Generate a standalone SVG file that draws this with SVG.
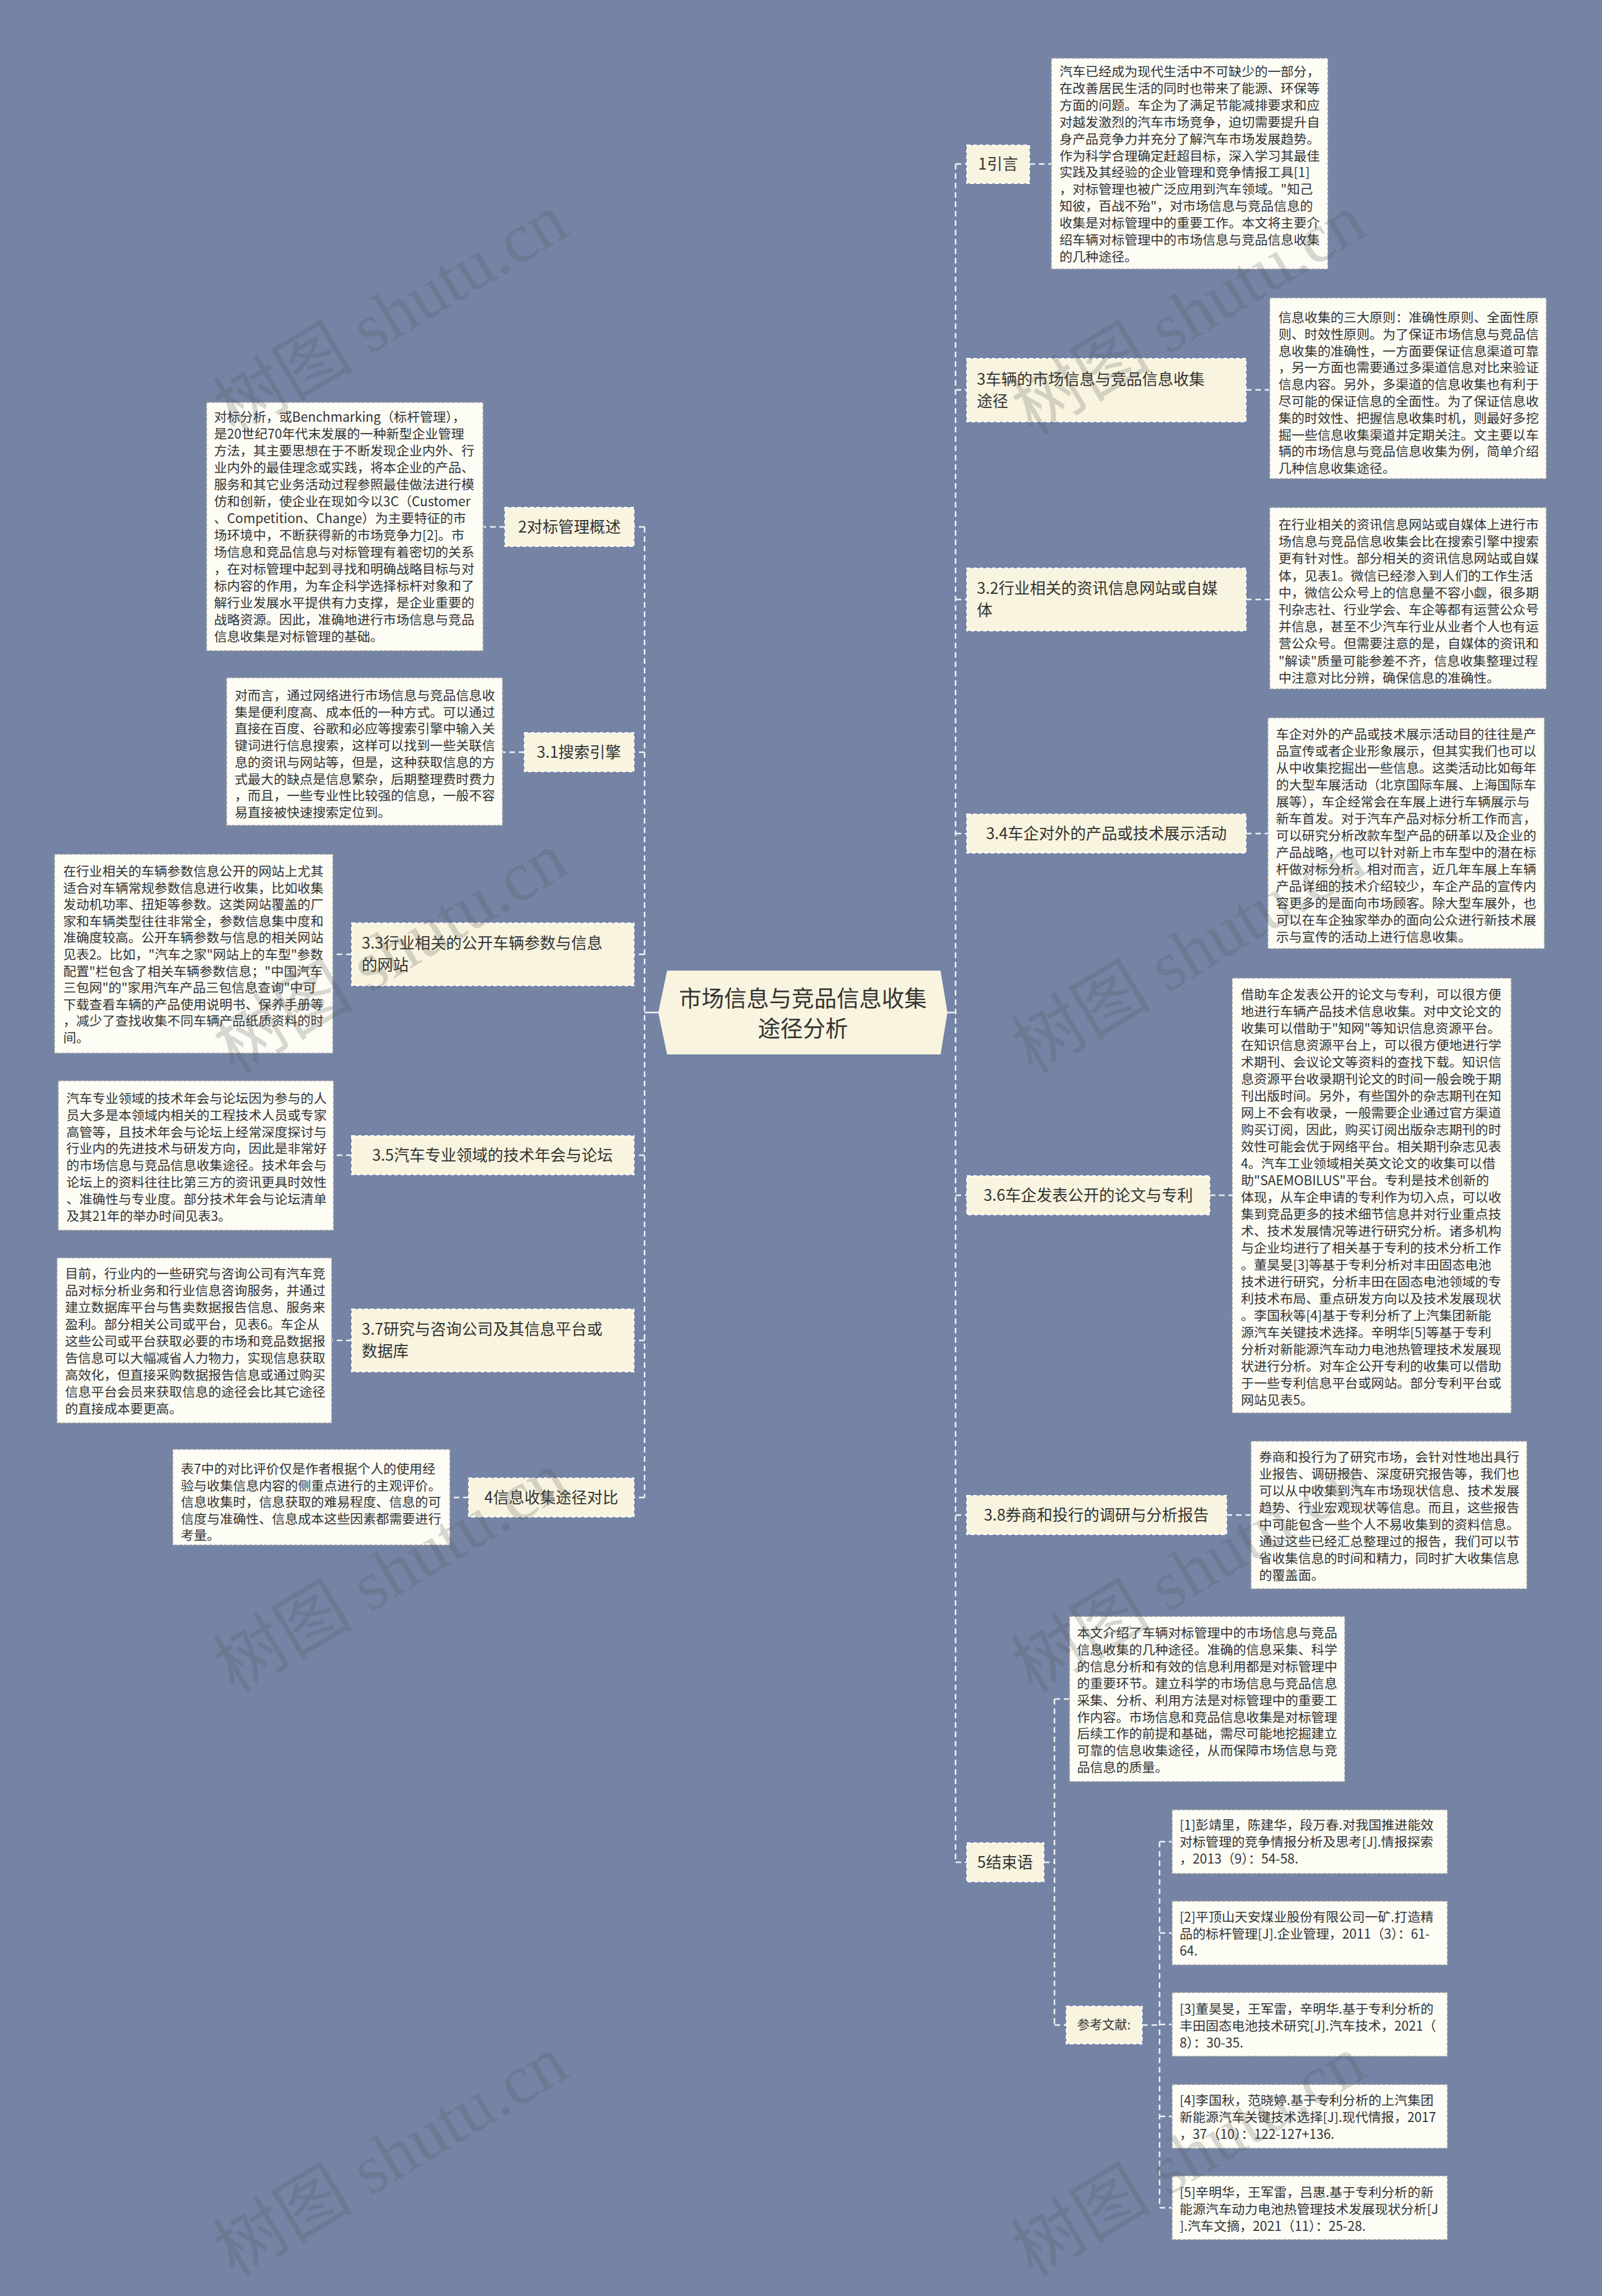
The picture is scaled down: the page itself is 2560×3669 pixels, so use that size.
<svg xmlns="http://www.w3.org/2000/svg" width="2560" height="3669" viewBox="0 0 2560 3669">
<style>
.bg{fill:#7584a5}
.lbl{fill:#f8f4df;stroke:#ffffff;stroke-width:2;stroke-dasharray:6 4}
.box{fill:#fdfdf6;stroke:#9a9a9a;stroke-width:1.5;stroke-dasharray:5 3}
.ctr{fill:#f8f4df;stroke:none}
text{font-family:'Noto Sans CJK SC','Noto Sans',sans-serif;fill:#333333}
.t{font-size:20.8px}
.lt{font-size:25px}
.st{font-size:20px}
.ct{font-size:36px;text-anchor:middle}
.mid{text-anchor:middle}
.conn{fill:none;stroke:#eef0f6;stroke-width:2.5;stroke-dasharray:9 6}
.solid{fill:none;stroke:#eef0f6;stroke-width:2.5}
.wm{font-family:'Liberation Serif','Noto Sans CJK SC',serif;font-size:112px;fill:#555555;opacity:0.22}
</style>
<rect class="bg" x="0" y="0" width="2560" height="3669"/>

<g id="connectors">
<path class="solid" d="M1052 1618H1030M1511 1618H1527"/>
<path class="conn" d="M1030 842V2393M1527 262V2976"/>
<path class="conn" d="M1527 262H1545M1527 623H1545M1527 958H1545M1527 1332H1545M1527 1910H1545M1527 2421H1545M1527 2976H1545"/>
<path class="conn" d="M1645 262H1680M1991 623H2029M1991 958H2029M1991 1332H2026M1933 1910H1969M1960 2421H1999"/>
<path class="conn" d="M1668 2976H1685M1685 2715V3236M1685 2715H1709M1685 3236H1704"/>
<path class="conn" d="M1825 3236H1853M1853 2943V3528M1853 2943H1873M1853 3089H1873M1853 3235H1873M1853 3382H1873M1853 3528H1873"/>
<path class="conn" d="M1030 842H1013M1030 1202H1013M1030 1525H1013M1030 1846H1013M1030 2142H1013M1030 2393H1013"/>
<path class="conn" d="M807 842H772M838 1202H803M562 1525H532M562 1846H533M562 2142H530M749 2393H719"/>
</g>

<g id="center">
<polygon class="ctr" points="1052,1618 1066,1551 1503,1551 1514,1618 1503,1685 1066,1685"/>
<text class="ct" x="1283" y="1609">市场信息与竞品信息收集</text>
<text class="ct" x="1283" y="1657">途径分析</text>
</g>

<g id="n-intro">
<rect class="lbl" x="1545" y="232" width="100" height="61"/>
<text class="lt mid" x="1595" y="271">1引言</text>
</g>
<g id="n-intro-text">
<rect class="box" x="1680" y="93" width="442" height="337"/>
<text class="t" x="1693" y="122"><tspan x="1693">汽车已经成为现代生活中不可缺少的一部分，</tspan><tspan x="1693" dy="26.9">在改善居民生活的同时也带来了能源、环保等</tspan><tspan x="1693" dy="26.9">方面的问题。车企为了满足节能减排要求和应</tspan><tspan x="1693" dy="26.9">对越发激烈的汽车市场竞争，迫切需要提升自</tspan><tspan x="1693" dy="26.9">身产品竞争力并充分了解汽车市场发展趋势。</tspan><tspan x="1693" dy="26.9">作为科学合理确定赶超目标，深入学习其最佳</tspan><tspan x="1693" dy="26.9">实践及其经验的企业管理和竞争情报工具[1]</tspan><tspan x="1693" dy="26.9">，对标管理也被广泛应用到汽车领域。"知己</tspan><tspan x="1693" dy="26.9">知彼，百战不殆"，对市场信息与竞品信息的</tspan><tspan x="1693" dy="26.9">收集是对标管理中的重要工作。本文将主要介</tspan><tspan x="1693" dy="26.9">绍车辆对标管理中的市场信息与竞品信息收集</tspan><tspan x="1693" dy="26.9">的几种途径。</tspan></text>
</g>

<g id="n-3">
<rect class="lbl" x="1545" y="573" width="446" height="101"/>
<text class="lt" x="1561" y="615"><tspan x="1561">3车辆的市场信息与竞品信息收集</tspan><tspan x="1561" dy="35">途径</tspan></text>
</g>
<g id="n-3-text">
<rect class="box" x="2029" y="476" width="442" height="289"/>
<text class="t" x="2043" y="515"><tspan x="2043">信息收集的三大原则：准确性原则、全面性原</tspan><tspan x="2043" dy="26.8">则、时效性原则。为了保证市场信息与竞品信</tspan><tspan x="2043" dy="26.8">息收集的准确性，一方面要保证信息渠道可靠</tspan><tspan x="2043" dy="26.8">，另一方面也需要通过多渠道信息对比来验证</tspan><tspan x="2043" dy="26.8">信息内容。另外，多渠道的信息收集也有利于</tspan><tspan x="2043" dy="26.8">尽可能的保证信息的全面性。为了保证信息收</tspan><tspan x="2043" dy="26.8">集的时效性、把握信息收集时机，则最好多挖</tspan><tspan x="2043" dy="26.8">掘一些信息收集渠道并定期关注。文主要以车</tspan><tspan x="2043" dy="26.8">辆的市场信息与竞品信息收集为例，简单介绍</tspan><tspan x="2043" dy="26.8">几种信息收集途径。</tspan></text>
</g>

<g id="n-32">
<rect class="lbl" x="1545" y="908" width="446" height="100"/>
<text class="lt" x="1561" y="949"><tspan x="1561">3.2行业相关的资讯信息网站或自媒</tspan><tspan x="1561" dy="35">体</tspan></text>
</g>
<g id="n-32-text">
<rect class="box" x="2029" y="811" width="442" height="290"/>
<text class="t" x="2043" y="846"><tspan x="2043">在行业相关的资讯信息网站或自媒体上进行市</tspan><tspan x="2043" dy="27.2">场信息与竞品信息收集会比在搜索引擎中搜索</tspan><tspan x="2043" dy="27.2">更有针对性。部分相关的资讯信息网站或自媒</tspan><tspan x="2043" dy="27.2">体，见表1。微信已经渗入到人们的工作生活</tspan><tspan x="2043" dy="27.2">中，微信公众号上的信息量不容小觑，很多期</tspan><tspan x="2043" dy="27.2">刊杂志社、行业学会、车企等都有运营公众号</tspan><tspan x="2043" dy="27.2">并信息，甚至不少汽车行业从业者个人也有运</tspan><tspan x="2043" dy="27.2">营公众号。但需要注意的是，自媒体的资讯和</tspan><tspan x="2043" dy="27.2">"解读"质量可能参差不齐，信息收集整理过程</tspan><tspan x="2043" dy="27.2">中注意对比分辨，确保信息的准确性。</tspan></text>
</g>

<g id="n-34">
<rect class="lbl" x="1545" y="1301" width="446" height="62"/>
<text class="lt mid" x="1768" y="1341">3.4车企对外的产品或技术展示活动</text>
</g>
<g id="n-34-text">
<rect class="box" x="2026" y="1147" width="442" height="369"/>
<text class="t" x="2039" y="1181"><tspan x="2039">车企对外的产品或技术展示活动目的往往是产</tspan><tspan x="2039" dy="27">品宣传或者企业形象展示，但其实我们也可以</tspan><tspan x="2039" dy="27">从中收集挖掘出一些信息。这类活动比如每年</tspan><tspan x="2039" dy="27">的大型车展活动（北京国际车展、上海国际车</tspan><tspan x="2039" dy="27">展等），车企经常会在车展上进行车辆展示与</tspan><tspan x="2039" dy="27">新车首发。对于汽车产品对标分析工作而言，</tspan><tspan x="2039" dy="27">可以研究分析改款车型产品的研革以及企业的</tspan><tspan x="2039" dy="27">产品战略，也可以针对新上市车型中的潜在标</tspan><tspan x="2039" dy="27">杆做对标分析。相对而言，近几年车展上车辆</tspan><tspan x="2039" dy="27">产品详细的技术介绍较少，车企产品的宣传内</tspan><tspan x="2039" dy="27">容更多的是面向市场顾客。除大型车展外，也</tspan><tspan x="2039" dy="27">可以在车企独家举办的面向公众进行新技术展</tspan><tspan x="2039" dy="27">示与宣传的活动上进行信息收集。</tspan></text>
</g>

<g id="n-36">
<rect class="lbl" x="1545" y="1879" width="388" height="62"/>
<text class="lt mid" x="1739" y="1919">3.6车企发表公开的论文与专利</text>
</g>
<g id="n-36-text">
<rect class="box" x="1969" y="1563" width="446" height="695"/>
<text class="t" x="1983" y="1597"><tspan x="1983">借助车企发表公开的论文与专利，可以很方便</tspan><tspan x="1983" dy="27">地进行车辆产品技术信息收集。对中文论文的</tspan><tspan x="1983" dy="27">收集可以借助于"知网"等知识信息资源平台。</tspan><tspan x="1983" dy="27">在知识信息资源平台上，可以很方便地进行学</tspan><tspan x="1983" dy="27">术期刊、会议论文等资料的查找下载。知识信</tspan><tspan x="1983" dy="27">息资源平台收录期刊论文的时间一般会晚于期</tspan><tspan x="1983" dy="27">刊出版时间。另外，有些国外的杂志期刊在知</tspan><tspan x="1983" dy="27">网上不会有收录，一般需要企业通过官方渠道</tspan><tspan x="1983" dy="27">购买订阅，因此，购买订阅出版杂志期刊的时</tspan><tspan x="1983" dy="27">效性可能会优于网络平台。相关期刊杂志见表</tspan><tspan x="1983" dy="27">4。汽车工业领域相关英文论文的收集可以借</tspan><tspan x="1983" dy="27">助"SAEMOBILUS"平台。专利是技术创新的</tspan><tspan x="1983" dy="27">体现，从车企申请的专利作为切入点，可以收</tspan><tspan x="1983" dy="27">集到竞品更多的技术细节信息并对行业重点技</tspan><tspan x="1983" dy="27">术、技术发展情况等进行研究分析。诸多机构</tspan><tspan x="1983" dy="27">与企业均进行了相关基于专利的技术分析工作</tspan><tspan x="1983" dy="27">。董昊旻[3]等基于专利分析对丰田固态电池</tspan><tspan x="1983" dy="27">技术进行研究，分析丰田在固态电池领域的专</tspan><tspan x="1983" dy="27">利技术布局、重点研发方向以及技术发展现状</tspan><tspan x="1983" dy="27">。李国秋等[4]基于专利分析了上汽集团新能</tspan><tspan x="1983" dy="27">源汽车关键技术选择。辛明华[5]等基于专利</tspan><tspan x="1983" dy="27">分析对新能源汽车动力电池热管理技术发展现</tspan><tspan x="1983" dy="27">状进行分析。对车企公开专利的收集可以借助</tspan><tspan x="1983" dy="27">于一些专利信息平台或网站。部分专利平台或</tspan><tspan x="1983" dy="27">网站见表5。</tspan></text>
</g>

<g id="n-38">
<rect class="lbl" x="1545" y="2390" width="415" height="62"/>
<text class="lt mid" x="1752" y="2430">3.8券商和投行的调研与分析报告</text>
</g>
<g id="n-38-text">
<rect class="box" x="1999" y="2303" width="441" height="236"/>
<text class="t" x="2012" y="2336"><tspan x="2012">券商和投行为了研究市场，会针对性地出具行</tspan><tspan x="2012" dy="27">业报告、调研报告、深度研究报告等，我们也</tspan><tspan x="2012" dy="27">可以从中收集到汽车市场现状信息、技术发展</tspan><tspan x="2012" dy="27">趋势、行业宏观现状等信息。而且，这些报告</tspan><tspan x="2012" dy="27">中可能包含一些个人不易收集到的资料信息。</tspan><tspan x="2012" dy="27">通过这些已经汇总整理过的报告，我们可以节</tspan><tspan x="2012" dy="27">省收集信息的时间和精力，同时扩大收集信息</tspan><tspan x="2012" dy="27">的覆盖面。</tspan></text>
</g>

<g id="n-5">
<rect class="lbl" x="1545" y="2945" width="123" height="62"/>
<text class="lt mid" x="1606" y="2985">5结束语</text>
</g>
<g id="n-5-text">
<rect class="box" x="1709" y="2583" width="440" height="264"/>
<text class="t" x="1721" y="2617"><tspan x="1721">本文介绍了车辆对标管理中的市场信息与竞品</tspan><tspan x="1721" dy="26.9">信息收集的几种途径。准确的信息采集、科学</tspan><tspan x="1721" dy="26.9">的信息分析和有效的信息利用都是对标管理中</tspan><tspan x="1721" dy="26.9">的重要环节。建立科学的市场信息与竞品信息</tspan><tspan x="1721" dy="26.9">采集、分析、利用方法是对标管理中的重要工</tspan><tspan x="1721" dy="26.9">作内容。市场信息和竞品信息收集是对标管理</tspan><tspan x="1721" dy="26.9">后续工作的前提和基础，需尽可能地挖掘建立</tspan><tspan x="1721" dy="26.9">可靠的信息收集途径，从而保障市场信息与竞</tspan><tspan x="1721" dy="26.9">品信息的质量。</tspan></text>
</g>

<g id="n-refs">
<rect class="lbl" x="1704" y="3206" width="121" height="60"/>
<text class="st mid" x="1764" y="3243">参考文献:</text>
</g>
<g id="n-ref1">
<rect class="box" x="1873" y="2892" width="440" height="102"/>
<text class="t" x="1885" y="2924"><tspan x="1885">[1]彭靖里，陈建华，段万春.对我国推进能效</tspan><tspan x="1885" dy="27">对标管理的竞争情报分析及思考[J].情报探索</tspan><tspan x="1885" dy="27">，2013（9）：54-58.</tspan></text>
</g>
<g id="n-ref2">
<rect class="box" x="1873" y="3038" width="440" height="102"/>
<text class="t" x="1885" y="3071"><tspan x="1885">[2]平顶山天安煤业股份有限公司一矿.打造精</tspan><tspan x="1885" dy="27">品的标杆管理[J].企业管理，2011（3）：61-</tspan><tspan x="1885" dy="27">64.</tspan></text>
</g>
<g id="n-ref3">
<rect class="box" x="1873" y="3184" width="440" height="102"/>
<text class="t" x="1885" y="3218"><tspan x="1885">[3]董昊旻，王军雷，辛明华.基于专利分析的</tspan><tspan x="1885" dy="27">丰田固态电池技术研究[J].汽车技术，2021（</tspan><tspan x="1885" dy="27">8）：30-35.</tspan></text>
</g>
<g id="n-ref4">
<rect class="box" x="1873" y="3331" width="440" height="102"/>
<text class="t" x="1885" y="3364"><tspan x="1885">[4]李国秋，范晓婷.基于专利分析的上汽集团</tspan><tspan x="1885" dy="27">新能源汽车关键技术选择[J].现代情报，2017</tspan><tspan x="1885" dy="27">，37（10）：122-127+136.</tspan></text>
</g>
<g id="n-ref5">
<rect class="box" x="1873" y="3477" width="440" height="102"/>
<text class="t" x="1885" y="3511"><tspan x="1885">[5]辛明华，王军雷，吕惠.基于专利分析的新</tspan><tspan x="1885" dy="27">能源汽车动力电池热管理技术发展现状分析[J</tspan><tspan x="1885" dy="27">].汽车文摘，2021（11）：25-28.</tspan></text>
</g>

<g id="n-2">
<rect class="lbl" x="807" y="811" width="206" height="62"/>
<text class="lt mid" x="910" y="851">2对标管理概述</text>
</g>
<g id="n-2-text">
<rect class="box" x="330" y="643" width="442" height="397"/>
<text class="t" x="342" y="674"><tspan x="342">对标分析，或Benchmarking（标杆管理），</tspan><tspan x="342" dy="27">是20世纪70年代末发展的一种新型企业管理</tspan><tspan x="342" dy="27">方法，其主要思想在于不断发现企业内外、行</tspan><tspan x="342" dy="27">业内外的最佳理念或实践，将本企业的产品、</tspan><tspan x="342" dy="27">服务和其它业务活动过程参照最佳做法进行模</tspan><tspan x="342" dy="27">仿和创新，使企业在现如今以3C（Customer</tspan><tspan x="342" dy="27">、Competition、Change）为主要特征的市</tspan><tspan x="342" dy="27">场环境中，不断获得新的市场竞争力[2]。市</tspan><tspan x="342" dy="27">场信息和竞品信息与对标管理有着密切的关系</tspan><tspan x="342" dy="27">，在对标管理中起到寻找和明确战略目标与对</tspan><tspan x="342" dy="27">标内容的作用，为车企科学选择标杆对象和了</tspan><tspan x="342" dy="27">解行业发展水平提供有力支撑，是企业重要的</tspan><tspan x="342" dy="27">战略资源。因此，准确地进行市场信息与竞品</tspan><tspan x="342" dy="27">信息收集是对标管理的基础。</tspan></text>
</g>

<g id="n-31">
<rect class="lbl" x="838" y="1171" width="175" height="62"/>
<text class="lt mid" x="925" y="1211">3.1搜索引擎</text>
</g>
<g id="n-31-text">
<rect class="box" x="362" y="1083" width="441" height="236"/>
<text class="t" x="375" y="1119"><tspan x="375">对而言，通过网络进行市场信息与竞品信息收</tspan><tspan x="375" dy="26.7">集是便利度高、成本低的一种方式。可以通过</tspan><tspan x="375" dy="26.7">直接在百度、谷歌和必应等搜索引擎中输入关</tspan><tspan x="375" dy="26.7">键词进行信息搜索，这样可以找到一些关联信</tspan><tspan x="375" dy="26.7">息的资讯与网站等，但是，这种获取信息的方</tspan><tspan x="375" dy="26.7">式最大的缺点是信息繁杂，后期整理费时费力</tspan><tspan x="375" dy="26.7">，而且，一些专业性比较强的信息，一般不容</tspan><tspan x="375" dy="26.7">易直接被快速搜索定位到。</tspan></text>
</g>

<g id="n-33">
<rect class="lbl" x="562" y="1475" width="451" height="100"/>
<text class="lt" x="578" y="1516"><tspan x="578">3.3行业相关的公开车辆参数与信息</tspan><tspan x="578" dy="35">的网站</tspan></text>
</g>
<g id="n-33-text">
<rect class="box" x="87" y="1365" width="445" height="318"/>
<text class="t" x="101" y="1400"><tspan x="101">在行业相关的车辆参数信息公开的网站上尤其</tspan><tspan x="101" dy="26.6">适合对车辆常规参数信息进行收集，比如收集</tspan><tspan x="101" dy="26.6">发动机功率、扭矩等参数。这类网站覆盖的厂</tspan><tspan x="101" dy="26.6">家和车辆类型往往非常全，参数信息集中度和</tspan><tspan x="101" dy="26.6">准确度较高。公开车辆参数与信息的相关网站</tspan><tspan x="101" dy="26.6">见表2。比如，"汽车之家"网站上的车型"参数</tspan><tspan x="101" dy="26.6">配置"栏包含了相关车辆参数信息；"中国汽车</tspan><tspan x="101" dy="26.6">三包网"的"家用汽车产品三包信息查询"中可</tspan><tspan x="101" dy="26.6">下载查看车辆的产品使用说明书、保养手册等</tspan><tspan x="101" dy="26.6">，减少了查找收集不同车辆产品纸质资料的时</tspan><tspan x="101" dy="26.6">间。</tspan></text>
</g>

<g id="n-35">
<rect class="lbl" x="562" y="1815" width="451" height="62"/>
<text class="lt mid" x="787" y="1855">3.5汽车专业领域的技术年会与论坛</text>
</g>
<g id="n-35-text">
<rect class="box" x="93" y="1727" width="440" height="239"/>
<text class="t" x="106" y="1763"><tspan x="106">汽车专业领域的技术年会与论坛因为参与的人</tspan><tspan x="106" dy="26.8">员大多是本领域内相关的工程技术人员或专家</tspan><tspan x="106" dy="26.8">高管等，且技术年会与论坛上经常深度探讨与</tspan><tspan x="106" dy="26.8">行业内的先进技术与研发方向，因此是非常好</tspan><tspan x="106" dy="26.8">的市场信息与竞品信息收集途径。技术年会与</tspan><tspan x="106" dy="26.8">论坛上的资料往往比第三方的资讯更具时效性</tspan><tspan x="106" dy="26.8">、准确性与专业度。部分技术年会与论坛清单</tspan><tspan x="106" dy="26.8">及其21年的举办时间见表3。</tspan></text>
</g>

<g id="n-37">
<rect class="lbl" x="562" y="2092" width="451" height="100"/>
<text class="lt" x="578" y="2133"><tspan x="578">3.7研究与咨询公司及其信息平台或</tspan><tspan x="578" dy="35">数据库</tspan></text>
</g>
<g id="n-37-text">
<rect class="box" x="91" y="2010" width="439" height="264"/>
<text class="t" x="104" y="2043"><tspan x="104">目前，行业内的一些研究与咨询公司有汽车竞</tspan><tspan x="104" dy="27">品对标分析业务和行业信息咨询服务，并通过</tspan><tspan x="104" dy="27">建立数据库平台与售卖数据报告信息、服务来</tspan><tspan x="104" dy="27">盈利。部分相关公司或平台，见表6。车企从</tspan><tspan x="104" dy="27">这些公司或平台获取必要的市场和竞品数据报</tspan><tspan x="104" dy="27">告信息可以大幅减省人力物力，实现信息获取</tspan><tspan x="104" dy="27">高效化，但直接采购数据报告信息或通过购买</tspan><tspan x="104" dy="27">信息平台会员来获取信息的途径会比其它途径</tspan><tspan x="104" dy="27">的直接成本要更高。</tspan></text>
</g>

<g id="n-4">
<rect class="lbl" x="749" y="2362" width="264" height="62"/>
<text class="lt mid" x="881" y="2402">4信息收集途径对比</text>
</g>
<g id="n-4-text">
<rect class="box" x="276" y="2316" width="443" height="153"/>
<text class="t" x="289" y="2355"><tspan x="289">表7中的对比评价仅是作者根据个人的使用经</tspan><tspan x="289" dy="26.5">验与收集信息内容的侧重点进行的主观评价。</tspan><tspan x="289" dy="26.5">信息收集时，信息获取的难易程度、信息的可</tspan><tspan x="289" dy="26.5">信度与准确性、信息成本这些因素都需要进行</tspan><tspan x="289" dy="26.5">考量。</tspan></text>
</g>

<g id="watermarks">
<text class="wm mid" transform="translate(644 535) rotate(-31)">树图 shutu.cn</text>
<text class="wm mid" transform="translate(1919 535) rotate(-31)">树图 shutu.cn</text>
<text class="wm mid" transform="translate(644 1555) rotate(-31)">树图 shutu.cn</text>
<text class="wm mid" transform="translate(1919 1555) rotate(-31)">树图 shutu.cn</text>
<text class="wm mid" transform="translate(644 2545) rotate(-31)">树图 shutu.cn</text>
<text class="wm mid" transform="translate(1919 2545) rotate(-31)">树图 shutu.cn</text>
<text class="wm mid" transform="translate(644 3478) rotate(-31)">树图 shutu.cn</text>
<text class="wm mid" transform="translate(1919 3478) rotate(-31)">树图 shutu.cn</text>
</g>
</svg>
